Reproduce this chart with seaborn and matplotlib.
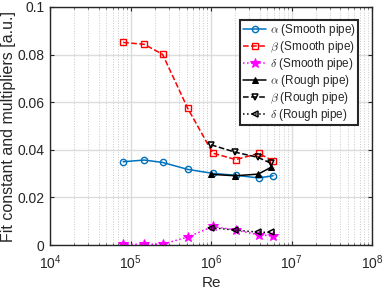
import numpy as np
import pandas as pd
import matplotlib
matplotlib.use("Agg")
import matplotlib.pyplot as plt
import seaborn as sns

# smooth pipe data
re_smooth = [8.1e4, 1.48e5, 2.5e5, 5.1e5, 1.05e6, 2.03e6, 3.9e6, 5.9e6]
alpha_smooth = [0.0350, 0.0357, 0.0347, 0.0318, 0.0301, 0.0293, 0.0282, 0.0291]
beta_smooth = [0.0851, 0.0843, 0.0801, 0.0576, 0.0386, 0.0359, 0.0385, 0.0354]
delta_smooth = [0.0004, 0.0003, 0.0004, 0.0033, 0.0078, 0.0063, 0.0043, 0.0038]

# rough pipe data
re_rough = [1.0e6, 2.0e6, 3.85e6, 5.6e6]
alpha_rough = [0.0297, 0.0291, 0.0298, 0.0327]
beta_rough = [0.0421, 0.0390, 0.0368, 0.0343]
delta_rough = [0.0073, 0.0063, 0.0054, 0.0053]

sns.set_style("ticks")
plt.rcParams["font.family"] = ["Liberation Sans", "DejaVu Sans"]
plt.rcParams["mathtext.fontset"] = "cm"

fig, ax = plt.subplots(figsize=(3.82, 2.90), dpi=100)

blue = "#0072BD"
lw = 1.1
sns.lineplot(x=re_smooth, y=alpha_smooth, ax=ax, color=blue, linestyle="-",
             marker="o", markersize=4.5, markerfacecolor="none", markeredgecolor=blue,
             markeredgewidth=1.0, linewidth=lw, label=r"$\alpha$ (Smooth pipe)")
sns.lineplot(x=re_smooth, y=beta_smooth, ax=ax, color="red", linestyle="--",
             marker="s", markersize=4.2, markerfacecolor="none", markeredgecolor="red",
             markeredgewidth=1.0, linewidth=lw, label=r"$\beta$ (Smooth pipe)")
sns.lineplot(x=re_smooth, y=delta_smooth, ax=ax, color="magenta", linestyle=":",
             marker="*", markersize=7.5, markerfacecolor="magenta", markeredgecolor="magenta",
             linewidth=lw, label=r"$\delta$ (Smooth pipe)")
sns.lineplot(x=re_rough, y=alpha_rough, ax=ax, color="black", linestyle="-",
             marker="^", markersize=5, markerfacecolor="black", markeredgecolor="black",
             linewidth=lw, label=r"$\alpha$ (Rough pipe)")
sns.lineplot(x=re_rough, y=beta_rough, ax=ax, color="black", linestyle="--",
             marker="v", markersize=5, markerfacecolor="none", markeredgecolor="black",
             markeredgewidth=1.1, linewidth=lw, label=r"$\beta$ (Rough pipe)")
sns.lineplot(x=re_rough, y=delta_rough, ax=ax, color="black", linestyle=":",
             marker="<", markersize=5, markerfacecolor="none", markeredgecolor="black",
             markeredgewidth=1.1, linewidth=lw, label=r"$\delta$ (Rough pipe)")

ax.set_xscale("log")
ax.set_xlim(1e4, 1e8)
ax.set_ylim(0, 0.1)
ax.set_yticks([0, 0.02, 0.04, 0.06, 0.08, 0.1])
ax.set_yticklabels(["0", "0.02", "0.04", "0.06", "0.08", "0.1"])
ax.set_xticks([1e4, 1e5, 1e6, 1e7, 1e8])

ax.grid(True, which="major", color="#dcdcdc", linewidth=1.0, linestyle="-")
ax.xaxis.grid(True, which="minor", color="#c8c8c8", linewidth=0.7, linestyle=":")
ax.set_axisbelow(True)

ax.tick_params(which="both", direction="in", top=True, right=True, labelsize=10,
               colors="#262626", length=3)
ax.tick_params(axis="x", which="major", pad=6)
ax.tick_params(axis="y", which="major", pad=4)
ax.tick_params(which="minor", length=1.5)
for s in ax.spines.values():
    s.set_color("#262626")
    s.set_linewidth(1.0)

ax.set_xlabel("Re", fontsize=11, color="#262626", labelpad=3)
ax.set_ylabel("Fit constant and multipliers [a.u.]", fontsize=11.5, color="#262626", labelpad=1)

leg = ax.legend(loc="upper right", fontsize=8.5, frameon=True, fancybox=False,
                edgecolor="#262626", framealpha=1, borderpad=0.2, labelspacing=0.08,
                handlelength=2.0, handletextpad=0.3, borderaxespad=0.5,
                bbox_to_anchor=(0.975, 0.97))
leg.get_frame().set_linewidth(1.5)

fig.subplots_adjust(left=0.131, right=0.974, top=0.976, bottom=0.155)
fig.savefig("out.png", dpi=100)
